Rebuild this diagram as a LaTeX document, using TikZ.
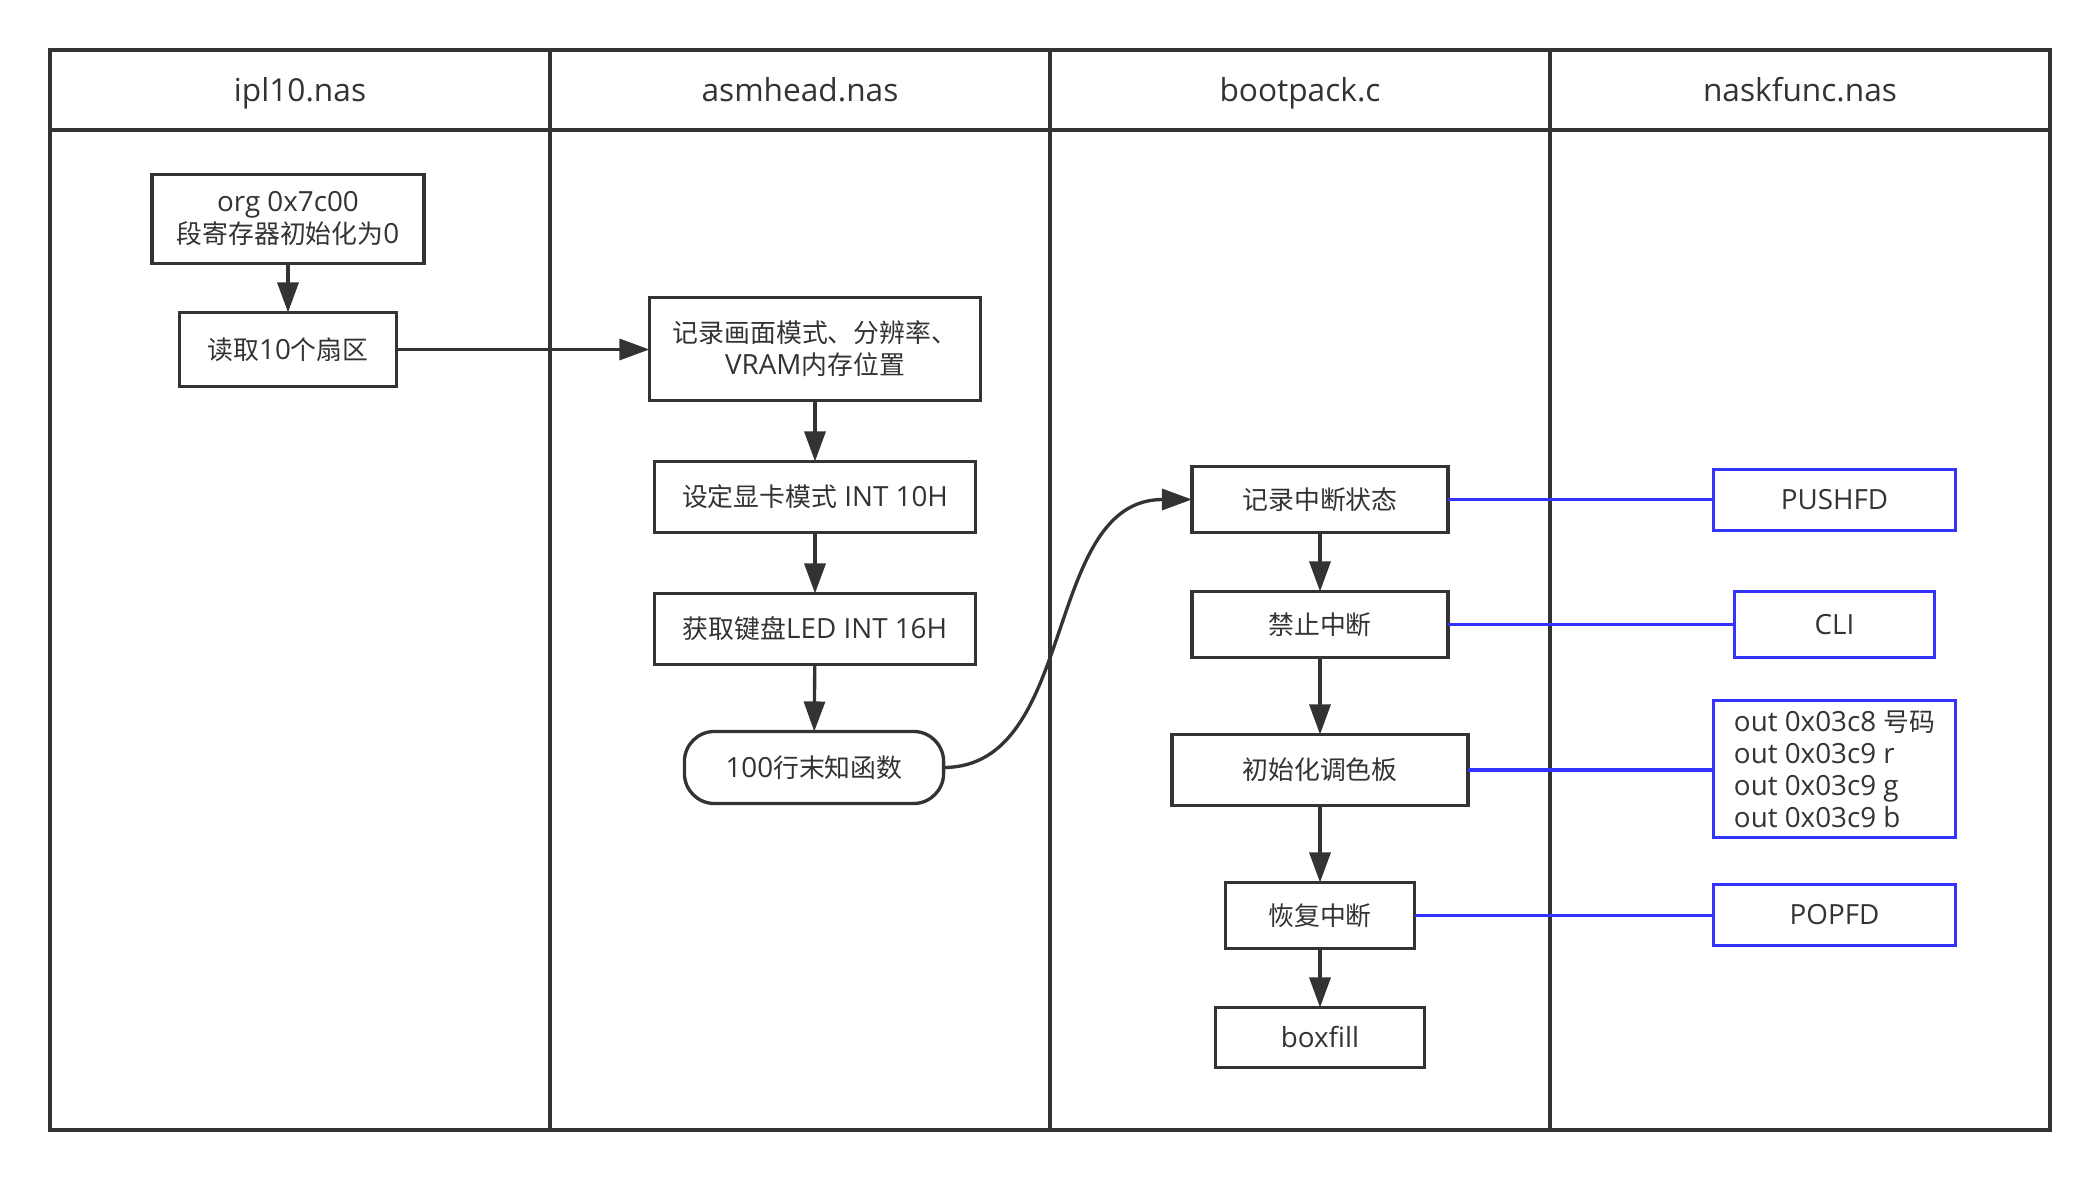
\documentclass[tikz,border=0pt]{standalone}
\usepackage{fontspec}
\setmainfont{Open Sans}
\newfontfamily\zh{Noto Sans CJK SC}[Scale=0.93]
\usetikzlibrary{arrows.meta}
\definecolor{dk}{HTML}{333333}
\definecolor{bl}{HTML}{3333FF}
\begin{document}
\begin{tikzpicture}[x=0.01cm,y=-0.01cm,
  box/.style={draw=dk, line width=0.95pt, rectangle, inner sep=0pt, outer sep=0pt, text=dk,
    font=\fontsize{7.9}{9.1}\selectfont, align=center},
  bbox/.style={box, draw=bl, line width=1pt},
  arr/.style={draw=dk, line width=0.95pt, -{Triangle[length=3mm,width=2.1mm]}},
  link/.style={draw=bl, line width=1pt},
  hdr/.style={text=dk, font=\fontsize{9}{11}\selectfont, anchor=base},
  frm/.style={draw=dk, line width=1.15pt}]
\useasboundingbox (0,0) rectangle (2100,1180);
% swimlane frame
\draw[frm] (50,50) rectangle (2050,1130);
\draw[frm] (50,130) -- (2050,130);
\draw[frm] (550,50) -- (550,1130);
\draw[frm] (1050,50) -- (1050,1130);
\draw[frm] (1550,50) -- (1550,1130);
\node[hdr] (h1) at (300,102) {ipl10.nas};
\node[hdr] (h2) at (800,102) {asmhead.nas};
\node[hdr] (h3) at (1300,102) {bootpack.c};
\node[hdr] (h4) at (1800,102) {naskfunc.nas};
% column 1
\node[box, minimum width=2.72cm, minimum height=0.89cm] (org) at (288,219)
  {org 0x7c00\\{\zh 段寄存器初始化为}0};
\node[box, minimum width=2.17cm, minimum height=0.74cm] (read) at (288,349.5)
  {{\zh 读取}10{\zh 个扇区}};
% column 2
\node[box, minimum width=3.31cm, minimum height=1.03cm] (rec) at (815,349)
  {{\zh 记录画面模式、分辨率、}\\VRAM{\zh 内存位置}};
\node[box, minimum width=3.21cm, minimum height=0.71cm] (setm) at (815,497)
  {{\zh 设定显卡模式} INT 10H};
\node[box, minimum width=3.21cm, minimum height=0.71cm] (kbd) at (815,629)
  {{\zh 获取键盘}LED INT 16H};
\node[box, rounded corners=0.3cm, minimum width=2.59cm, minimum height=0.72cm] (unk) at (814,767.5)
  {100{\zh 行末知函数}};
% column 3
\node[box, minimum width=2.56cm, minimum height=0.66cm] (s1) at (1320,499.5) {{\zh 记录中断状态}};
\node[box, minimum width=2.56cm, minimum height=0.66cm] (s2) at (1320,624.5) {{\zh 禁止中断}};
\node[box, minimum width=2.96cm, minimum height=0.71cm] (s3) at (1320,770) {{\zh 初始化调色板}};
\node[box, minimum width=1.89cm, minimum height=0.66cm] (s4) at (1320,915.5) {{\zh 恢复中断}};
\node[box, minimum width=2.09cm, minimum height=0.60cm] (s5) at (1320,1037.5) {boxfill};
% column 4
\node[bbox, minimum width=2.42cm, minimum height=0.61cm] (b1) at (1834.5,500) {PUSHFD};
\node[bbox, minimum width=2.00cm, minimum height=0.66cm] (b2) at (1834.5,624.5) {CLI};
\node[bbox, align=left, minimum width=2.42cm, minimum height=1.37cm] (b3) at (1834.5,769)
  {out 0x03c8 {\zh 号码}\\out 0x03c9 r\\out 0x03c9 g\\out 0x03c9 b};
\node[bbox, minimum width=2.42cm, minimum height=0.61cm] (b4) at (1834.5,915) {POPFD};
% arrows
\draw[arr] (org) -- (read);
\draw[arr] (read.east) -- (read.east -| rec.west);
\draw[arr] (rec) -- (setm);
\draw[arr] (setm) -- (kbd);
\draw[arr] (kbd) -- (unk);
\draw[arr] (unk.east) .. controls +(135,0) and +(-150,0) .. (s1.west);
\draw[arr] (s1) -- (s2);
\draw[arr] (s2) -- (s3);
\draw[arr] (s3) -- (s4);
\draw[arr] (s4) -- (s5);
% blue links
\draw[link] (s1.east) -- (s1.east -| b1.west);
\draw[link] (s2.east) -- (s2.east -| b2.west);
\draw[link] (s3.east) -- (s3.east -| b3.west);
\draw[link] (s4.east) -- (s4.east -| b4.west);
\end{tikzpicture}
\end{document}
